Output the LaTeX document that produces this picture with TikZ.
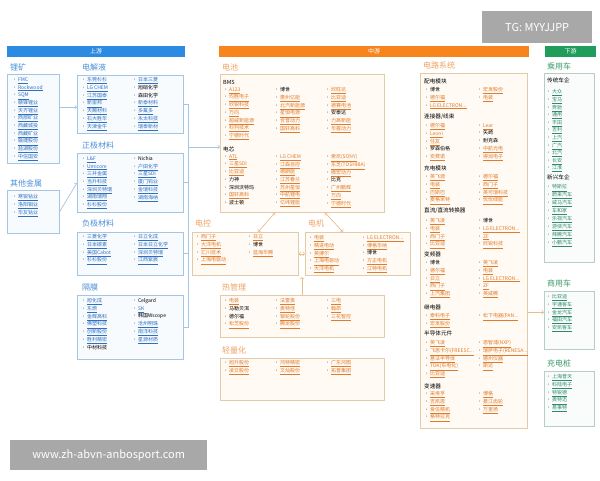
\documentclass[tikz,border=0pt]{standalone}
\usepackage{fontspec}
\setmainfont{Noto Sans CJK SC}

\definecolor{upbar}{HTML}{2B8AE2}
\definecolor{upttl}{HTML}{4A90D9}
\definecolor{upc}{HTML}{2E6FC0}
\definecolor{upline}{HTML}{A6C5E3}
\definecolor{upfill}{HTML}{F8FBFE}
\definecolor{mdbar}{HTML}{F7851C}
\definecolor{mdttl}{HTML}{F0A160}
\definecolor{mdc}{HTML}{E07B2C}
\definecolor{mdline}{HTML}{E2CBA9}
\definecolor{mdfill}{HTML}{FFFAF3}
\definecolor{dnbar}{HTML}{1F9D5A}
\definecolor{dnttl}{HTML}{3C9A68}
\definecolor{dnc}{HTML}{2F8A6A}
\definecolor{dnline}{HTML}{B7CFC3}
\definecolor{dnfill}{HTML}{FAFCFB}
\definecolor{wmgray}{HTML}{A8A8A8}

\newcommand\li[1]{{\color{gray}·}\,\underline{#1}\\}
\newcommand\lb[1]{{\color{gray}·}\,{\color{black}#1}\\}

\tikzset{
  upbox/.style={draw=upline, fill=upfill, line width=0.6pt, anchor=north west, inner sep=0pt},
  mdbox/.style={draw=mdline, fill=mdfill, line width=0.7pt, anchor=north west, inner sep=0pt},
  dnbox/.style={draw=dnline, fill=dnfill, line width=0.6pt, anchor=north west, inner sep=0pt},
  lst/.style={anchor=north west, align=left, inner sep=0pt, font=\fontsize{5}{7.7}\selectfont},
  ttl/.style={anchor=west, inner sep=0pt, font=\fontsize{8}{9}\selectfont},
  sec/.style={anchor=west, inner sep=0pt, font=\fontsize{5.6}{6}\selectfont},
  bar/.style={anchor=north west, inner sep=0pt, minimum height=11pt, text=white, font=\fontsize{6}{7}\selectfont},
  upcon/.style={draw=upline, line width=0.7pt},
  mdcon/.style={draw=mdline!80!mdbar, line width=0.7pt},
}

\begin{document}
\begin{tikzpicture}[x=1pt,y=-1pt]
\useasboundingbox (0,0) rectangle (600,480);

% header bars
\node[bar, fill=upbar, minimum width=178pt] (sy) at (7,46) {上游};
\node[bar, fill=mdbar, minimum width=310pt] (zy) at (219,46) {中游};
\node[bar, fill=dnbar, minimum width=51pt] (xy) at (545,46) {下游};
\node[fill=wmgray, anchor=north west, minimum width=110pt, minimum height=32pt, text=white,
  font=\fontsize{11}{12}\selectfont] (tg) at (482,11) {TG: MYYJJPP};

% ---- upstream
\node[ttl, text=upttl] (lkt) at (10,67) {锂矿};
\node[upbox, minimum width=52pt, minimum height=89pt] (lkbox) at (7,74) {};
\node[lst, text=upc] (lk1) at (12,77.4) {\li{FMC}\li{Rockwood}\li{SQM}\li{赣锋锂业}\li{天齐锂业}\li{西部矿业}\li{西藏城投}\li{西藏矿业}\li{融捷股份}\li{盐湖股份}\li{中信国安}};

\node[ttl, text=upttl] (qtt) at (10,183) {其他金属};
\node[upbox, minimum width=52pt, minimum height=43pt] (qtbox) at (7,190) {};
\node[lst, text=upc] (qt1) at (12,194.4) {\li{寒锐钴业}\li{洛阳钼业}\li{华友钴业}};

\node[ttl, text=upttl] (djt) at (82,67) {电解液};
\node[upbox, minimum width=106pt, minimum height=58pt] (djbox) at (77,75) {};
\node[lst, text=upc] (dj1) at (81,77.4) {\li{东莞杉杉}\li{LG CHEM}\li{江苏国泰}\li{新宙邦}\li{天赐材料}\li{石大胜华}\li{天津金牛}};
\node[lst, text=upc] (dj2) at (132,77.4) {\li{日本三菱}\lb{旭硝化学}\lb{森田化学}\li{新泰材料}\li{多氟多}\li{永太科技}\li{瑞泰新材}};

\node[ttl, text=upttl] (zjt) at (82,145) {正极材料};
\node[upbox, minimum width=106pt, minimum height=59pt] (zjbox) at (77,153) {};
\node[lst, text=upc] (zj1) at (81,156.4) {\li{L\&F}\li{Umicore}\li{三井金属}\li{当升科技}\li{深圳贝特瑞}\li{湖南瑞翔}\li{杉杉股份}};
\node[lst, text=upc] (zj2) at (132,156.4) {\lb{Nichia}\li{户田化学}\li{三星SDI}\li{厦门钨业}\li{金瑞科技}\li{湖南海纳}};

\node[ttl, text=upttl] (fjt) at (82,223) {负极材料};
\node[upbox, minimum width=106pt, minimum height=43pt] (fjbox) at (77,232) {};
\node[lst, text=upc] (fj1) at (81,234.4) {\li{三菱化学}\li{日本碳素}\li{美国Cabot}\li{杉杉股份}};
\node[lst, text=upc] (fj2) at (132,234.4) {\li{日立化成}\li{日本日立化学}\li{深圳贝特瑞}\li{江西紫宸}};

\node[ttl, text=upttl] (gmt) at (82,287) {隔膜};
\node[upbox, minimum width=106pt, minimum height=64pt] (gmbox) at (77,295) {};
\node[lst, text=upc] (gm1) at (81,298.4) {\li{旭化成}\li{东燃}\li{金辉高科}\li{佛塑科技}\li{创新股份}\li{胜利精密}\lb{中材科技}};
\node[lst, text=upc] (gm2) at (132,298.4) {\lb{Celgard}\li{SK}\lb{韩国Wscope}\li{沧州明珠}\li{南洋科技}\li{星源材质}};

\coordinate (lkout) at ([yshift=11.5pt]lkbox.east);
\draw[upcon, ->] (lkout) -- (lkout -| djbox.west);
\draw[upcon, ->] (qtbox.east) -- (zjbox.west);
\draw[upcon] (djbox.east) -- ++(5,0) |- (gmbox.east);
\draw[upcon] (zjbox.east) -- ++(5,0);
\draw[upcon] (fjbox.east) -- ++(5,0);
\coordinate (brk) at (188,147);

% ---- midstream
\node[ttl, text=mdttl] (dct) at (222,67) {电池};
\node[mdbox, minimum width=164pt, minimum height=138pt] (dcbox) at (220,74) {};
\node[sec] (bms) at (223,82) {BMS};
\node[lst, text=mdc] (bm1) at (223,87.4) {\li{A123}\li{均胜电子}\li{欣锐科技}\li{万向}\li{超威新能源}\li{科列技术}\li{宁德时代}};
\node[lst, text=mdc] (bm2) at (274,87.4) {\lb{博世}\li{惠州亿能}\li{北汽新能源}\li{星恒电源}\li{合普动力}\li{国轩高科}};
\node[lst, text=mdc] (bm3) at (325,87.4) {\li{欣旺达}\li{比亚迪}\li{德赛电池}\lb{安泰达}\li{力高新能}\li{华霆动力}};
\node[sec] (dx) at (223,149) {电芯};
\node[lst, text=mdc] (dx1) at (223,154.4) {\li{ATL}\li{三星SDI}\li{比亚迪}\lb{力神}\lb{深圳沃特玛}\li{国轩高科}\lb{波士顿}};
\node[lst, text=mdc] (dx2) at (274,154.4) {\li{LG CHEM}\li{江森自控}\li{德朗能}\li{江苏春兰}\li{苏州星恒}\li{中航锂电}\li{亿纬锂能}};
\node[lst, text=mdc] (dx3) at (325,154.4) {\li{索尼(SONY)}\li{东芝(TOSHIBA)}\li{微宏动力}\lb{比克}\li{广州鹏辉}\li{万向}\li{宁德时代}};
\draw[upcon, ->] (brk) -- (brk -| dcbox.west);

\node[ttl, text=mdttl] (dkt) at (195,223) {电控};
\node[mdbox, minimum width=106pt, minimum height=43pt] (dkbox) at (192,232) {};
\node[lst, text=mdc] (dk1) at (195,234.4) {\li{西门子}\li{大洋电机}\li{汇川技术}\li{上海电驱动}};
\node[lst, text=mdc] (dk2) at (247,234.4) {\li{日立}\lb{博世}\li{蓝海华腾}};

\node[ttl, text=mdttl] (djt2) at (308,223) {电机};
\node[mdbox, minimum width=105pt, minimum height=43pt] (dmbox) at (305,232) {};
\node[lst, text=mdc] (dm1) at (308,235.4) {\li{电装}\li{精进电动}\li{英搏尔}\li{上海电驱动}\li{大洋电机}};
\node[lst, text=mdc] (dm2) at (361,235.4) {\li{LG ELECTRON...}\li{博格华纳}\lb{博世}\li{方正电机}\li{江特电机}};

\node[ttl, text=mdttl] (rgt) at (222,287) {热管理};
\node[mdbox, minimum width=164pt, minimum height=42pt] (rgbox) at (220,295) {};
\node[lst, text=mdc] (rg1) at (223,298.4) {\li{电装}\lb{马勒贝洱}\lb{德尔福}\li{松芝股份}};
\node[lst, text=mdc] (rg2) at (274,298.4) {\li{法雷奥}\li{奥特佳}\li{银轮股份}\li{腾龙股份}};
\node[lst, text=mdc] (rg3) at (325,298.4) {\li{三电}\li{翰昂}\li{三花智控}};

\node[ttl, text=mdttl] (qlt) at (222,350) {轻量化};
\node[mdbox, minimum width=164pt, minimum height=42pt] (qlbox) at (220,358) {};
\node[lst, text=mdc] (ql1) at (223,360.4) {\li{旭升股份}\li{凌云股份}};
\node[lst, text=mdc] (ql2) at (274,360.4) {\li{鸿特精密}\li{文灿股份}};
\node[lst, text=mdc] (ql3) at (325,360.4) {\li{广东鸿图}\li{拓普集团}};

\draw[mdcon, <->] ([xshift=55pt]dcbox.south west) -- ([xshift=66pt]dkbox.north west);
\draw[mdcon, <->] ([xshift=105pt]dcbox.south west) -- ([xshift=38pt]dmbox.north west);
\draw[mdcon, <->] (dkbox.east) -- (dmbox.west);
\draw[mdcon, ->] ([xshift=82pt]rgbox.north west) -- ++(0,-18);

\node[ttl, text=mdttl] (dlt) at (423,65) {电路系统};
\node[mdbox, minimum width=107pt, minimum height=355pt] (dlbox) at (420,73) {};
\node[sec] (pd) at (424,81) {配电模块};
\node[lst, text=mdc] (pd1) at (424,87.4) {\lb{博世}\li{德尔福}\li{LG ELECTRON...}};
\node[lst, text=mdc] (pd2) at (477,87.4) {\li{宏发股份}\li{电装}};
\node[sec] (lj) at (424,117) {连接器/线束};
\node[lst, text=mdc] (lj1) at (424,123.4) {\li{德尔福}\li{Leoni}\li{住友}\lb{罗森伯格}\li{安费诺}};
\node[lst, text=mdc] (lj2) at (477,123.4) {\li{Lear}\lb{矢崎}\lb{耐克森}\li{中航光电}\li{得润电子}};
\node[sec] (cd) at (424,168) {充电模块};
\node[lst, text=mdc] (cd1) at (424,174.4) {\li{英飞源}\li{电装}\li{巴斯巴}\li{麦格米特}};
\node[lst, text=mdc] (cd2) at (477,174.4) {\li{德尔福}\li{西门子}\li{英可瑞科技}\li{优优绿能}};
\node[sec] (zl) at (424,211) {直流/直流转换器};
\node[lst, text=mdc] (zl1) at (424,218.4) {\li{英飞凌}\li{电装}\li{西门子}\li{比亚迪}};
\node[lst, text=mdc] (zl2) at (477,218.4) {\lb{博世}\li{LG ELECTRON...}\li{ZF}\li{欣锐科技}};
\node[sec] (bp) at (424,254) {变频器};
\node[lst, text=mdc] (bp1) at (424,260.4) {\lb{博世}\li{德尔福}\li{日立}\li{西门子}\li{上汽集团}};
\node[lst, text=mdc] (bp2) at (477,260.4) {\li{英飞凌}\li{电装}\li{LG ELECTRON...}\li{ZF}\li{英威腾}};
\node[sec] (jd) at (424,307) {继电器};
\node[lst, text=mdc] (jd1) at (424,313.4) {\li{泰科电子}\li{宏发股份}};
\node[lst, text=mdc] (jd2) at (477,313.4) {\li{松下电器(PAN...}};
\node[sec] (bd) at (424,333) {半导体元件};
\node[lst, text=mdc] (bd1) at (424,340.4) {\li{英飞凌}\li{飞思卡尔(FREESC...}\li{意法半导体}\li{TDK(东电化)}\li{比亚迪}};
\node[lst, text=mdc] (bd2) at (477,340.4) {\li{恩智浦(NXP)}\li{瑞萨电子(RENESA...}\li{德州仪器}\li{斯达}};
\node[sec] (bs) at (424,386) {变速器};
\node[lst, text=mdc] (bs1) at (424,391.4) {\li{采埃孚}\li{吉凯恩}\li{爱信精机}\li{格特拉克}};
\node[lst, text=mdc] (bs2) at (477,391.4) {\li{博格}\li{綦江齿轮}\li{万里扬}};

% ---- downstream
\node[ttl, text=dnttl] (cyt) at (547,66) {乘用车};
\node[dnbox, minimum width=50pt, minimum height=189pt] (cybox) at (544,73) {};
\node[sec] (ct) at (547,80) {传统车企};
\node[lst, text=dnc, font=\fontsize{5}{7.6}\selectfont] (ct1) at (546,89.4) {\li{大众}\li{宝马}\li{奔驰}\li{通用}\li{丰田}\li{吉利}\li{上汽}\li{广汽}\li{北汽}\li{长安}\li{江淮}};
\node[sec] (xx) at (547,177) {新兴车企};
\node[lst, text=dnc, font=\fontsize{5}{7.9}\selectfont] (xx1) at (546,184.4) {\li{特斯拉}\li{蔚来汽车}\li{威马汽车}\li{车和家}\li{乐视汽车}\li{游侠汽车}\li{拜腾汽车}\li{小鹏汽车}};

\node[ttl, text=dnttl] (syt) at (547,283) {商用车};
\node[dnbox, minimum width=50pt, minimum height=58pt] (sybox) at (544,291) {};
\node[lst, text=dnc] (sy1) at (546,294.4) {\li{比亚迪}\li{宇通客车}\li{金龙汽车}\li{福田汽车}\li{安凯客车}};
\coordinate (syin) at ([yshift=8pt]sybox.west);
\draw[mdcon, ->] (syin -| dlbox.east) -- (syin);

\node[ttl, text=dnttl] (cdt) at (547,363) {充电桩};
\node[dnbox, minimum width=50pt, minimum height=55pt] (cdbox) at (544,371) {};
\node[lst, text=dnc] (cz1) at (546,374.4) {\li{上海普天}\li{科陆电子}\li{特锐德}\li{奥特迅}\li{易事特}};

\node[fill=wmgray, anchor=north west, minimum width=197pt, minimum height=30pt, text=white,
  font=\fontsize{11}{12}\selectfont] (wm) at (10,440) {www.zh-abvn-anbosport.com};

\end{tikzpicture}
\end{document}
